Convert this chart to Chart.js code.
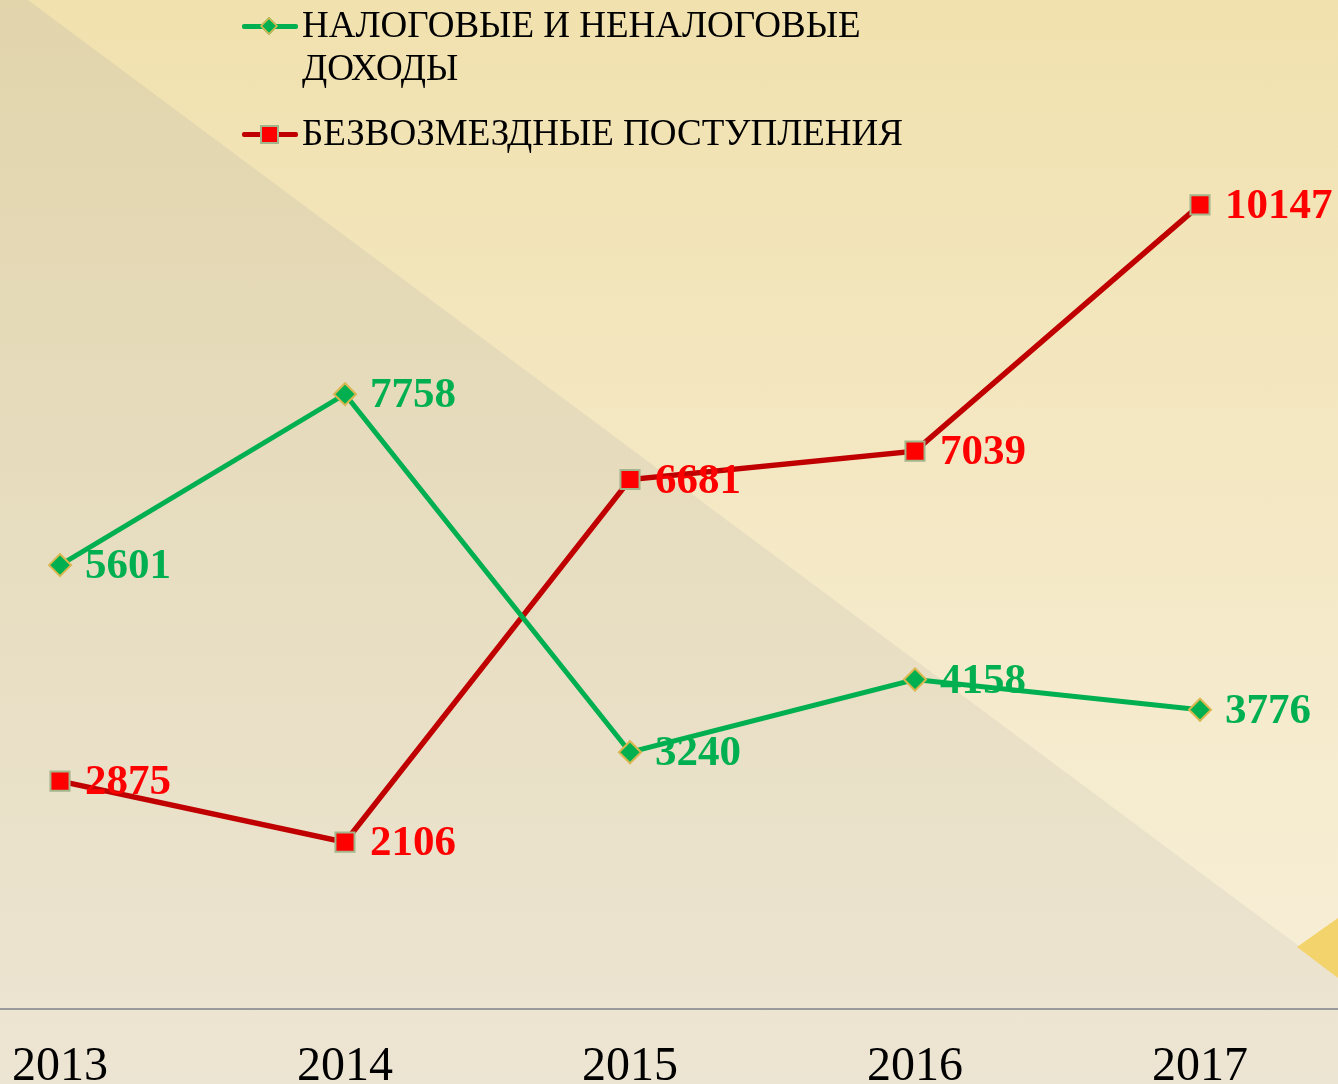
<!DOCTYPE html>
<html>
<head>
<meta charset="utf-8">
<script src="https://cdn.jsdelivr.net/npm/chart.js@4/dist/chart.umd.min.js"></script>
<style>
  html, body { margin: 0; padding: 0; }
  body {
    width: 1338px; height: 1084px; overflow: hidden; position: relative;
    background: linear-gradient(to bottom, #f1e1ae 0%, #f4e8c4 45%, #f7efda 100%);
    font-family: "Liberation Serif", "Times New Roman", serif;
  }
  .shade {
    position: absolute; left: 0; top: 0; width: 1338px; height: 1084px;
    background: linear-gradient(to bottom, #e2d5ac 0%, #e7ddc0 50%, #ede5d3 100%);
    clip-path: polygon(0 0, 28px 0, 1338px 975px, 1338px 1084px, 0 1084px);
  }
  .edge {
    position: absolute; left: 0; top: 0; width: 1338px; height: 1084px;
    background: #f3d36c;
    clip-path: polygon(1297px 947px, 1338px 918px, 1338px 978px);
  }
  #wrap { position: absolute; left: 0; top: 0; width: 1338px; height: 1084px; }
  .legend { position: absolute; left: 242px; top: 0; color: #000; font-size: 37px; line-height: 43px; }
  .legend .item { position: absolute; padding-left: 60px; white-space: nowrap; }
  .legend .ln { position: absolute; left: 0; width: 56px; height: 5px; border-radius: 2px; }
  .legend .mk { position: absolute; box-sizing: border-box; }
</style>
</head>
<body>
<div class="shade"></div>
<div class="edge"></div>
<div id="wrap"><canvas id="chart" width="1338" height="1084"></canvas></div>
<div class="legend" id="legend"></div>
<script>
const years = [2013, 2014, 2015, 2016, 2017];
const taxIncome = [5601, 7758, 3240, 4158, 3776];
const grants = [2875, 2106, 6681, 7039, 10147];
const seriesNames = ['НАЛОГОВЫЕ И НЕНАЛОГОВЫЕ ДОХОДЫ', 'БЕЗВОЗМЕЗДНЫЕ ПОСТУПЛЕНИЯ'];

const green = '#00b050';
const red = '#c00000';

// легенда (HTML)
const legend = document.getElementById('legend');
legend.innerHTML = `
  <div class="item" style="top:3px;">
    <span class="ln" style="top:21px;background:${green}"></span>
    <span class="mk" style="left:19px;top:15px;width:16px;height:16px;background:${green};border:2px solid #d9b64f;transform:rotate(45deg) scale(0.8)"></span>
    ${seriesNames[0].replace(' НЕНАЛОГОВЫЕ ', ' НЕНАЛОГОВЫЕ<br>')}
  </div>
  <div class="item" style="top:111px;">
    <span class="ln" style="top:21px;background:${red}"></span>
    <span class="mk" style="left:18px;top:14px;width:19px;height:19px;background:#ff0000;border:2px solid #a3b58a"></span>
    ${seriesNames[1]}
  </div>`;

// подписи значений
const valueLabels = {
  id: 'valueLabels',
  afterDatasetsDraw(chart) {
    const ctx = chart.ctx;
    ctx.save();
    ctx.font = 'bold 43px "Liberation Serif", serif';
    ctx.textBaseline = 'middle';
    ctx.textAlign = 'left';
    chart.data.datasets.forEach((ds, i) => {
      const meta = chart.getDatasetMeta(i);
      ctx.fillStyle = ds.labelColor;
      meta.data.forEach((pt, j) => {
        ctx.fillText(String(ds.data[j].y), pt.x + 25, pt.y + 2);
      });
    });
    ctx.restore();
  }
};

new Chart(document.getElementById('chart'), {
  type: 'line',
  data: {
    datasets: [
      {
        label: seriesNames[0],
        data: years.map((y, i) => ({ x: y, y: taxIncome[i] })),
        borderColor: green,
        borderWidth: 5,
        pointStyle: 'rectRot',
        pointRadius: 11,
        pointBackgroundColor: green,
        pointBorderColor: '#d9b64f',
        pointBorderWidth: 2,
        labelColor: green,
        tension: 0
      },
      {
        label: seriesNames[1],
        data: years.map((y, i) => ({ x: y, y: grants[i] })),
        borderColor: red,
        borderWidth: 5.5,
        pointStyle: 'rect',
        pointRadius: 13.5,
        pointBackgroundColor: '#ff0000',
        pointBorderColor: '#a3b58a',
        pointBorderWidth: 2,
        labelColor: '#ff0000',
        tension: 0
      }
    ]
  },
  options: {
    responsive: false,
    animation: false,
    layout: { autoPadding: false, padding: { top: 58, left: 0, right: 0, bottom: 0 } },
    plugins: { legend: { display: false }, tooltip: { enabled: false } },
    scales: {
      x: {
        type: 'linear',
        min: 2013 - 60 / 285,
        max: 2013 + 1278 / 285,
        afterFit(scale) {
          scale.height = 75;
          scale.paddingLeft = 0;
          scale.paddingRight = 0;
        },
        grid: { display: false, drawTicks: false },
        border: { display: true, color: '#9a9a9a', width: 2 },
        ticks: {
          stepSize: 1,
          includeBounds: false,
          padding: 30,
          color: '#000',
          font: { family: '"Liberation Serif", serif', size: 48 },
          callback: v => Number.isInteger(v) ? String(v) : ''
        }
      },
      y: {
        display: false,
        min: 0,
        max: 12000
      }
    }
  },
  plugins: [valueLabels]
});
</script>
</body>
</html>
